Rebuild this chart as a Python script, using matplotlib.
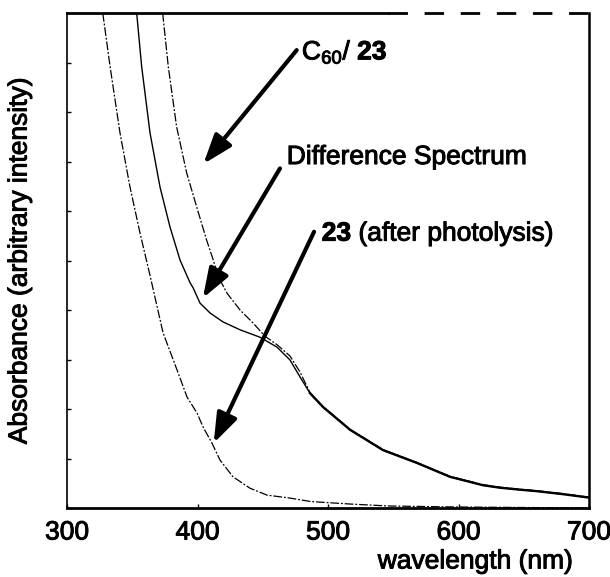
import matplotlib
matplotlib.use('Agg')
import matplotlib.pyplot as plt
import matplotlib.patheffects as pe

plt.rcParams['font.family'] = ['Liberation Sans', 'DejaVu Sans']
plt.rcParams['mathtext.fontset'] = 'custom'
plt.rcParams['mathtext.rm'] = 'Liberation Sans'
plt.rcParams['mathtext.it'] = 'Liberation Sans'
plt.rcParams['mathtext.bf'] = 'Liberation Sans:bold'

# 23 after photolysis (leftmost trace)
wl_23 = [327.4, 333.0, 340.6, 348.3, 355.9, 363.6, 373.6, 384.3, 392.0, 399.6, 404.2,
         411.1, 417.2, 427.2, 440.2, 453.3, 470.9, 487.0, 517.0, 547.0, 600.0, 650.0, 700.0]
abs_23 = [10.0, 8.92, 7.58, 6.48, 5.56, 4.70, 3.54, 2.79, 2.24, 1.92, 1.64,
          1.31, 0.97, 0.63, 0.40, 0.26, 0.20, 0.13, 0.08, 0.04, 0.02, 0.01, 0.0]

# difference spectrum (middle trace with the knee near 400 nm)
wl_diff = [353.4, 357.2, 363.6, 371.3, 378.9, 386.6, 394.3, 396.6, 401.9, 409.6, 419.5,
           432.6, 447.9, 460.9, 470.9, 478.5, 486.2, 496.2, 516.9, 542.1, 568.2, 593.5,
           618.8, 631.8, 647.0, 660.0, 680.0, 700.0]
abs_diff = [10.0, 8.92, 7.58, 6.48, 5.68, 5.01, 4.55, 4.45, 4.14, 3.94, 3.76,
            3.60, 3.45, 3.25, 2.99, 2.65, 2.32, 2.04, 1.58, 1.17, 0.91, 0.63,
            0.46, 0.41, 0.37, 0.34, 0.28, 0.21]

# C60 / 23 (rightmost trace)
wl_c60 = [373.3, 377.6, 384.0, 391.7, 399.4, 407.0, 412.1, 416.0, 422.6, 432.6, 442.5,
          451.7, 460.9, 470.9, 478.5, 486.2, 496.2, 516.9, 542.1, 568.2, 593.5,
          618.8, 631.8, 647.0, 660.0, 680.0, 700.0]
abs_c60 = [10.0, 8.92, 7.70, 6.77, 6.08, 5.41, 5.01, 4.67, 4.34, 4.00, 3.74,
           3.47, 3.30, 3.07, 2.75, 2.33, 2.05, 1.59, 1.18, 0.92, 0.64,
           0.47, 0.42, 0.38, 0.35, 0.29, 0.22]

fig = plt.figure(figsize=(6.1, 5.77), dpi=100)
ax = fig.add_axes([67 / 610, 1 - 508 / 577, 522 / 610, 495 / 577])

dashdot = (0, (7, 1.5, 1.5, 1.5))
ax.plot(wl_23, abs_23, color='black', lw=0.9, linestyle=dashdot)
ax.plot(wl_diff, abs_diff, color='black', lw=1.0)
ax.plot(wl_c60, abs_c60, color='black', lw=0.9, linestyle=dashdot)
# where the two traces overlap the scan looks heavier
tail = wl_diff.index(486.2)
ax.plot(wl_diff[tail:], abs_diff[tail:], color='black', lw=1.7)

ax.set_xlim(300, 700)
ax.set_ylim(0, 10)
ax.set_xticks([300, 400, 500, 600, 700])
ax.set_yticks(range(1, 10))
ax.set_yticklabels([])
ax.tick_params(axis='both', direction='in', length=3, width=1)
ax.tick_params(axis='x', labelsize=19, pad=9)

# scanned-looking frame
ax.spines['bottom'].set_linewidth(2)
ax.spines['right'].set_linewidth(1.8)
ax.spines['left'].set_linewidth(1.2)
ax.spines['left'].set_linestyle((0, (8, 1, 2, 1)))
ax.spines['top'].set_visible(False)
ax.plot([300, 546], [10, 10], color='black', lw=2, clip_on=False)
ax.plot([546, 700], [10, 10], color='black', lw=2, clip_on=False,
        linestyle=(0, (7, 6)))

heavy = [pe.withStroke(linewidth=0.7, foreground='black')]

ax.set_ylabel('Absorbance (arbitrary intensity)', fontsize=19, labelpad=22,
              path_effects=heavy)
ax.set_xlabel('wavelength (nm)', fontsize=19, ha='center', va='center',
              path_effects=heavy)
ax.xaxis.set_label_coords(0.7826, -0.108)
for lab in ax.get_xticklabels():
    lab.set_path_effects(heavy)

arrow = dict(arrowstyle='-|>,head_length=0.9,head_width=0.32', color='black',
             lw=3, shrinkA=0, shrinkB=0, mutation_scale=20)

ax.annotate('', xy=(404.5, 6.95), xytext=(476, 9.25), arrowprops=arrow)
ax.annotate('', xy=(404.1, 4.24), xytext=(463.2, 6.86), arrowprops=arrow)
ax.annotate('', xy=(412.4, 1.31), xytext=(489.3, 5.58), arrowprops=arrow)

ax.text(480, 9.21, r'C$_{60}$/ $\mathbf{23}$', fontsize=19, va='center', ha='left',
        path_effects=heavy)
ax.text(468.4, 7.09, 'Difference Spectrum', fontsize=19, va='center', ha='left',
        path_effects=heavy)
ax.text(495.2, 5.54, r'$\mathbf{23}$ (after photolysis)', fontsize=19, va='center',
        ha='left', path_effects=heavy)

fig.savefig('out.png', dpi=100)
